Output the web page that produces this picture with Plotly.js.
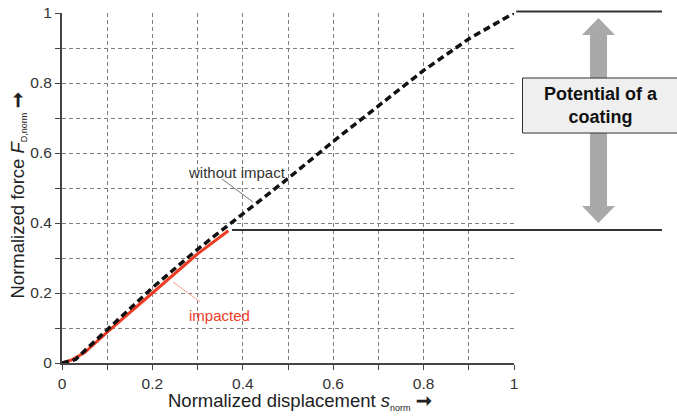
<!DOCTYPE html>
<html>
<head>
<meta charset="utf-8">
<script src="https://cdn.plot.ly/plotly-3.0.1.min.js"></script>
<style>html,body{margin:0;padding:0;background:#fff;}#chart{width:677px;height:417px;}</style>
</head>
<body>
<div id="chart"></div>
<script>
// Data
const withoutImpactX = [0, 0.03, 0.05, 0.1, 0.2, 0.3, 0.37, 0.4, 0.5, 0.6, 0.7, 0.8, 0.9, 1.0];
const withoutImpactY = [0, 0.01, 0.035, 0.095, 0.215, 0.325, 0.395, 0.428, 0.527, 0.633, 0.735, 0.836, 0.926, 1.0];
const impactedX = [0, 0.02, 0.05, 0.1, 0.2, 0.3, 0.368];
const impactedY = [0, 0.008, 0.03, 0.088, 0.2, 0.312, 0.378];
const tickVals = [0, 0.2, 0.4, 0.6, 0.8, 1];
const tickText = ['0', '0.2', '0.4', '0.6', '0.8', '1'];
const levelTop = 1.0;
const levelImpacted = 0.38;

const font = 'Liberation Sans, Arial, sans-serif';
const red = '#ee3b24';

const traces = [
  {x: impactedX, y: impactedY, mode: 'lines', line: {color: red, width: 3}, cliponaxis: false, showlegend: false, hoverinfo: 'skip'},
  {x: withoutImpactX, y: withoutImpactY, mode: 'lines', line: {color: '#111', width: 3.5, dash: '7px,4px'}, cliponaxis: false, showlegend: false, hoverinfo: 'skip'}
];

const axisCommon = {
  range: [0, 1], tickvals: tickVals, ticktext: tickText,
  ticks: 'outside', ticklen: 5, tickcolor: '#444', tickwidth: 1,
  showgrid: true, gridcolor: '#808080', gridwidth: 1, griddash: '4px,3px',
  minor: {dtick: 0.1, tick0: 0, ticks: 'outside', ticklen: 5, tickcolor: '#444', showgrid: true, gridcolor: '#808080', gridwidth: 1, griddash: '4px,3px'},
  showline: true, linecolor: '#444', linewidth: 2, zeroline: false,
  tickfont: {family: font, size: 15.5, color: '#333'}, fixedrange: true
};

// pixel helpers for annotation geometry (plot area 452 x 350 px)
const px = v => (v - 62) / 452;
const py = v => (363 - v) / 350;

const arrowPath = [
  [598.5, 18], [615, 35], [607, 35], [607, 206], [615, 206], [598.5, 223],
  [582, 206], [590, 206], [590, 35], [582, 35]
].map((p, i) => (i ? 'L' : 'M') + px(p[0]).toFixed(4) + ',' + py(p[1]).toFixed(4)).join(' ') + ' Z';

const arrowGlyph = '<b>➞</b>';
const xTitle = 'Normalized displacement <i>s</i><sub><span style="font-size:9px">norm</span></sub> ' + arrowGlyph;
const yTitle = 'Normalized force <i>F</i><sub><span style="font-size:9px">D,norm</span></sub> ' + arrowGlyph;

const layout = {
  width: 677, height: 417,
  margin: {l: 62, r: 163, t: 13, b: 54},
  paper_bgcolor: '#fff', plot_bgcolor: '#fff',
  font: {family: font, color: '#333'},
  xaxis: Object.assign({}, axisCommon),
  yaxis: Object.assign({}, axisCommon),
  shapes: [
    {type: 'line', xref: 'paper', yref: 'paper', x0: 1.005, x1: px(662), y0: levelTop + 0.004, y1: levelTop + 0.004, line: {color: '#333', width: 2}},
    {type: 'line', xref: 'paper', yref: 'paper', x0: impactedX[impactedX.length - 1] + 0.008, x1: px(662), y0: levelImpacted, y1: levelImpacted, line: {color: '#333', width: 2}},
    {type: 'path', xref: 'paper', yref: 'paper', path: arrowPath, fillcolor: '#a9a9a9', line: {width: 0}},
    {type: 'rect', xref: 'paper', yref: 'paper', x0: px(522.5), x1: px(690), y0: py(133), y1: py(78), fillcolor: '#efefef', line: {color: '#333', width: 1}},
    {type: 'line', xref: 'paper', yref: 'paper', x0: px(222), y0: py(179), x1: px(253), y1: py(202), line: {color: '#777', width: 1}},
    {type: 'line', xref: 'paper', yref: 'paper', x0: px(173), y0: py(282), x1: px(200), y1: py(302), line: {color: '#f4a090', width: 1}}
  ],
  annotations: [
    {xref: 'paper', yref: 'paper', x: px(299.5), y: py(401), xanchor: 'center', yanchor: 'middle', text: xTitle, showarrow: false, font: {family: font, size: 18.5, color: '#222'}},
    {xref: 'paper', yref: 'paper', x: px(17.5), y: py(195), xanchor: 'center', yanchor: 'middle', textangle: -90, text: yTitle, showarrow: false, font: {family: font, size: 18.5, color: '#222'}},
    {xref: 'paper', yref: 'paper', x: px(601), y: py(106), xanchor: 'center', yanchor: 'middle', text: '<b>Potential of a<br>coating</b>', showarrow: false, font: {family: font, size: 18, color: '#111'}, align: 'center'},
    {xref: 'paper', yref: 'paper', x: px(236.5), y: py(172), xanchor: 'center', yanchor: 'middle', text: 'without impact', showarrow: false, font: {family: font, size: 15, color: '#333'}},
    {xref: 'paper', yref: 'paper', x: px(219), y: py(315), xanchor: 'center', yanchor: 'middle', text: 'impacted', showarrow: false, font: {family: font, size: 15, color: red}}
  ]
};

Plotly.newPlot('chart', traces, layout, {staticPlot: true, displayModeBar: false});
</script>
</body>
</html>
